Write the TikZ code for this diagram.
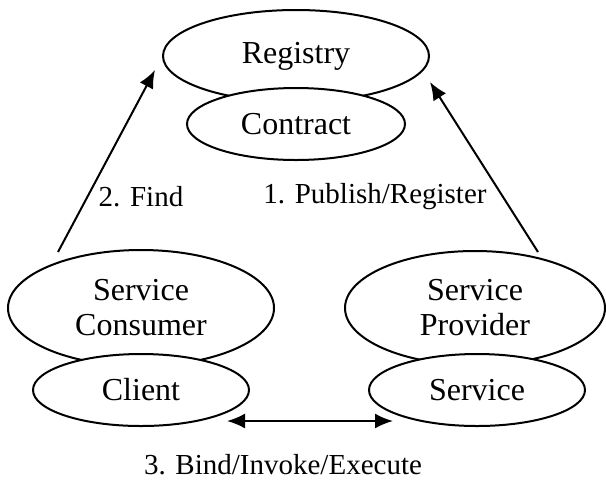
\documentclass[tikz,border=0pt]{standalone}
\usepackage{fontspec}
\setmainfont{Liberation Serif}
\usetikzlibrary{arrows.meta,shapes.geometric}

\begin{document}
\begin{tikzpicture}[x=0.5pt, y=-0.5pt, line width=1pt,
	txt/.style={font=\fontsize{16}{17.5}\selectfont, inner sep=1pt},
	lbl/.style={font=\fontsize{14.5}{17}\selectfont, inner sep=1pt},
	role/.style={txt, ellipse, draw, inner sep=0pt, align=center},
	part/.style={txt, ellipse, draw, fill=white, inner sep=0pt, minimum width=108pt, minimum height=36pt},
	head/.tip={Latex[length=9pt,width=7.5pt]},
	call/.style={-head}]
	\useasboundingbox (0,0) rectangle (606,479);
	\node[role, minimum width=133pt, minimum height=46pt] (registry) at (296,56) {Registry};
	\node[part, minimum width=109pt] (contract) at (296,124) {Contract};
	\node[role, minimum width=133pt, minimum height=58pt] (consumer) at (141,308) {Service\\Consumer};
	\node[part] (client) at (141,390) {Client};
	\node[role, minimum width=130pt, minimum height=57pt] (provider) at (475,308) {Service\\Provider};
	\node[part] (service) at (477,390) {Service};
	\coordinate (findfrom) at (58,252);
	\coordinate (findto) at (155,70);
	\coordinate (pubfrom) at (538,252);
	\coordinate (pubto) at (430,82);
	\coordinate (bindleft) at (227,421);
	\coordinate (bindright) at (393,421);
	\draw[call] (findfrom) -- (findto);
	\draw[call] (pubfrom) -- (pubto);
	\draw[head-head] (bindleft) -- (bindright);
	\node[lbl] (find) at (141,197) {2. Find};
	\node[lbl] (publish) at (375,197) {1. Publish/Register};
	\node[lbl] (bind) at (283,465) {3. Bind/Invoke/Execute};
\end{tikzpicture}
\end{document}
